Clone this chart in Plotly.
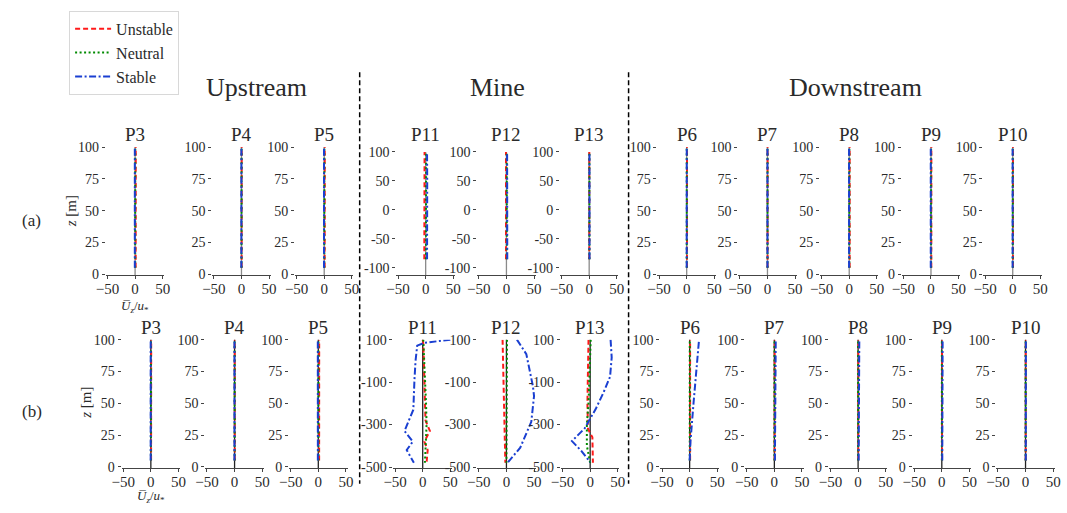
import plotly.graph_objects as go

# ---------------- data ----------------
PANEL_NAMES = ["P3", "P4", "P5", "P11", "P12", "P13", "P6", "P7", "P8", "P9", "P10"]
SECTIONS = ["Upstream", "Mine", "Downstream"]
SERIES = ["Unstable", "Neutral", "Stable"]

X_TICKS = [-50, 0, 50]
X_TICKTEXT = ["\u221250", "0", "50"]
Y_TICKS_SURF = [0, 25, 50, 75, 100]
Y_TICKS_MINE_A = [-100, -50, 0, 50, 100]
Y_TICKS_MINE_B = [-500, -300, -100, 100]

# heights of profiles
Z_SURF = [5, 25, 50, 75, 100]
Z_MINE_A = [-85, -50, 0, 50, 100]

# ---- row (a) ----
a_P3_unstable = [1.0, 1.0, 1.2, 1.0, 1.2]
a_P3_neutral = [0.2, 0.3, 0.3, 0.2, 0.3]
a_P3_stable = [-0.5, -0.4, -0.5, -0.4, -0.5]
a_P4_unstable = [0.3, 0.3, 0.4, 0.3, 0.4]
a_P4_neutral = [0.1, 0.1, 0.2, 0.1, 0.2]
a_P4_stable = [-0.2, -0.2, -0.1, -0.2, -0.1]
a_P5_unstable = [0.8, 0.9, 0.8, 1.0, 1.0]
a_P5_neutral = [0.2, 0.2, 0.3, 0.2, 0.3]
a_P5_stable = [-0.4, -0.3, -0.4, -0.3, -0.4]
a_P11_unstable = [-2.5, -2.5, -2.0, -2.5, -2.0]
a_P11_neutral = [0.5, 0.6, 0.8, 0.5, 0.8]
a_P11_stable = [2.5, 2.8, 2.5, 2.8, 2.5]
a_P12_unstable = [-0.8, -0.6, -0.8, -0.6, -0.8]
a_P12_neutral = [0.6, 0.8, 0.6, 0.8, 0.6]
a_P12_stable = [1.5, 1.2, 1.5, 1.2, 1.2]
a_P13_unstable = [0.2, 0.2, 0.3, 0.2, 0.2]
a_P13_neutral = [0.4, 0.3, 0.4, 0.3, 0.4]
a_P13_stable = [0.6, 0.6, 0.5, 0.6, 0.5]
a_P6_unstable = [0.5, 0.6, 0.5, 0.6, 0.5]
a_P6_neutral = [0.1, 0.2, 0.1, 0.2, 0.1]
a_P6_stable = [0.0, 0.2, 0.0, 0.2, 0.1]
a_P7_unstable = [0.2, 0.3, 0.2, 0.3, 0.2]
a_P7_neutral = [0.1, 0.1, 0.1, 0.1, 0.1]
a_P7_stable = [0.0, 0.1, 0.0, 0.1, 0.0]
a_P8_unstable = [0.8, 0.9, 0.8, 0.9, 0.8]
a_P8_neutral = [0.2, 0.2, 0.2, 0.2, 0.2]
a_P8_stable = [-0.3, -0.2, -0.3, -0.2, -0.3]
a_P9_unstable = [0.6, 0.6, 0.7, 0.6, 0.7]
a_P9_neutral = [0.2, 0.2, 0.2, 0.2, 0.2]
a_P9_stable = [-0.4, -0.3, -0.4, -0.3, -0.4]
a_P10_unstable = [0.4, 0.5, 0.4, 0.5, 0.4]
a_P10_neutral = [0.1, 0.1, 0.1, 0.1, 0.1]
a_P10_stable = [-0.2, -0.1, -0.2, -0.1, -0.2]

# ---- row (b) ----
b_P3_unstable = [0.4, 0.5, 0.6, 0.5, 0.6]
b_P3_neutral = [0.1, 0.1, 0.2, 0.1, 0.2]
b_P3_stable = [-0.3, -0.2, -0.3, -0.2, -0.3]
b_P4_unstable = [0.3, 0.3, 0.3, 0.3, 0.3]
b_P4_neutral = [0.1, 0.1, 0.1, 0.1, 0.1]
b_P4_stable = [-0.2, -0.2, -0.2, -0.2, -0.2]
b_P5_unstable = [1.5, 1.5, 1.6, 1.5, 1.6]
b_P5_neutral = [0.3, 0.3, 0.3, 0.3, 0.3]
b_P5_stable = [-0.8, -0.6, -0.9, -0.7, -0.9]
b_P6_z = [5, 20, 50, 75, 100]
b_P6_unstable = [0.8, 1.0, 1.5, 1.0, 0.8]
b_P6_neutral = [0.2, 0.2, 0.2, 0.2, 0.2]
b_P6_stable = [0.0, 1.5, 7.0, 12.0, 17.0]
b_P7_unstable = [0.5, 0.5, 0.6, 0.5, 0.5]
b_P7_neutral = [0.2, 0.2, 0.2, 0.2, 0.2]
b_P7_stable = [1.0, 1.2, 1.5, 2.0, 2.5]
b_P8_unstable = [0.4, 0.5, 0.4, 0.5, 0.4]
b_P8_neutral = [0.1, 0.1, 0.1, 0.1, 0.1]
b_P8_stable = [1.0, 1.2, 1.5, 2.0, 2.2]
b_P9_unstable = [0.4, 0.4, 0.4, 0.4, 0.4]
b_P9_neutral = [0.1, 0.1, 0.1, 0.1, 0.1]
b_P9_stable = [0.8, 0.9, 1.0, 1.2, 1.5]
b_P10_unstable = [0.3, 0.3, 0.3, 0.3, 0.3]
b_P10_neutral = [0.1, 0.1, 0.1, 0.1, 0.1]
b_P10_stable = [0.4, 0.5, 0.5, 0.6, 0.6]

# mine (b) profiles, each with its own heights
b_P11_unstable_z = [100, 80, 0, -100, -200, -280, -330, -380, -420, -480]
b_P11_unstable = [0, 1, 2, 3, 4, 5, 13, 3, 9, 7]
b_P11_neutral_z = [100, 0, -100, -200, -300, -400, -480]
b_P11_neutral = [1, 3, 5, 6, 7, 5, 4]
b_P11_stable_z = [100, 85, 72, 0, -90, -230, -330, -380, -420, -480]
b_P11_stable = [50, 3, -10, -13, -15, -17, -33, -18, -29, -16]

b_P12_unstable_z = [100, 0, -200, -480]
b_P12_unstable = [-7, -6, -4, -2]
b_P12_neutral_z = [100, -200, -480]
b_P12_neutral = [1, 0.5, 0]
b_P12_stable_z = [100, 32, -120, -166, -287, -409, -477]
b_P12_stable = [19, 36, 48, 50, 45, 25, 3]

b_P13_unstable_z = [100, 0, -200, -320, -360, -480]
b_P13_unstable = [-3, -4, -5, -4, 4, 5]
b_P13_neutral_z = [100, 0, -200, -300, -400, -480]
b_P13_neutral = [1, 0, -3, -6, -6, 0]
b_P13_stable_z = [100, 16, -75, -150, -227, -280, -318, -378, -424, -477]
b_P13_stable = [37, 39, 36, 24, 10, -2, -10, -33, -16, 0]

# ---------------- layout constants (pixels) ----------------
W, H = 1067, 513
ROW_A_CENTERS = [127, 235, 319, 422, 504, 588, 687, 769, 852, 935, 1018]
ROW_B_CENTERS = [143, 228, 313, 419, 504, 589, 690, 776, 861, 946, 1031]
HALF_W = 29.7
X_RANGE = [-53, 53]

COLORS = {"Unstable": "#ff1a1a", "Neutral": "#008a00", "Stable": "#1a3fd1"}
DASHES = {"Unstable": "5px,3px", "Neutral": "2px,2.5px", "Stable": "7px,2.5px,2px,2.5px"}
FONT = "Liberation Serif"
TXT = "#2a2a2a"


def px_x(p):
    return p / W


def px_y(p):
    return 1 - p / H


row_a = {
    "P3": (a_P3_unstable, a_P3_neutral, a_P3_stable),
    "P4": (a_P4_unstable, a_P4_neutral, a_P4_stable),
    "P5": (a_P5_unstable, a_P5_neutral, a_P5_stable),
    "P11": (a_P11_unstable, a_P11_neutral, a_P11_stable),
    "P12": (a_P12_unstable, a_P12_neutral, a_P12_stable),
    "P13": (a_P13_unstable, a_P13_neutral, a_P13_stable),
    "P6": (a_P6_unstable, a_P6_neutral, a_P6_stable),
    "P7": (a_P7_unstable, a_P7_neutral, a_P7_stable),
    "P8": (a_P8_unstable, a_P8_neutral, a_P8_stable),
    "P9": (a_P9_unstable, a_P9_neutral, a_P9_stable),
    "P10": (a_P10_unstable, a_P10_neutral, a_P10_stable),
}
row_b = {
    "P3": (b_P3_unstable, b_P3_neutral, b_P3_stable),
    "P4": (b_P4_unstable, b_P4_neutral, b_P4_stable),
    "P5": (b_P5_unstable, b_P5_neutral, b_P5_stable),
    "P11": (b_P11_unstable, b_P11_neutral, b_P11_stable),
    "P12": (b_P12_unstable, b_P12_neutral, b_P12_stable),
    "P13": (b_P13_unstable, b_P13_neutral, b_P13_stable),
    "P6": (b_P6_unstable, b_P6_neutral, b_P6_stable),
    "P7": (b_P7_unstable, b_P7_neutral, b_P7_stable),
    "P8": (b_P8_unstable, b_P8_neutral, b_P8_stable),
    "P9": (b_P9_unstable, b_P9_neutral, b_P9_stable),
    "P10": (b_P10_unstable, b_P10_neutral, b_P10_stable),
}
row_b_z = {
    "P11": (b_P11_unstable_z, b_P11_neutral_z, b_P11_stable_z),
    "P12": (b_P12_unstable_z, b_P12_neutral_z, b_P12_stable_z),
    "P13": (b_P13_unstable_z, b_P13_neutral_z, b_P13_stable_z),
    "P6": (b_P6_z, b_P6_z, b_P6_z),
}

fig = go.Figure()
layout_axes = {}
annotations = []
shapes = []
idx = 0
legend_done = False

for row in ["a", "b"]:
    centers = ROW_A_CENTERS if row == "a" else ROW_B_CENTERS
    for i, name in enumerate(PANEL_NAMES):
        idx += 1
        sfx = "" if idx == 1 else str(idx)
        xa, ya = "x" + sfx, "y" + sfx
        mine = name in ("P11", "P12", "P13")
        c = centers[i]
        xdom = [px_x(c - HALF_W), px_x(c + HALF_W)]
        if row == "a":
            top = 149 if mine else 144
            bottom = 276
            yr = [-113, 100] if mine else [-1, 100]
            yt = Y_TICKS_MINE_A if mine else Y_TICKS_SURF
            title_y = 131
        else:
            top, bottom = 342, 474
            yr = [-505, 100] if mine else [-1, 100]
            yt = Y_TICKS_MINE_B if mine else Y_TICKS_SURF
            title_y = 329
        ydom = [px_y(bottom), px_y(top)]

        vals = row_a[name] if row == "a" else row_b[name]
        if row == "a":
            zs = (Z_MINE_A,) * 3 if mine else (Z_SURF,) * 3
        else:
            zs = row_b_z.get(name, (Z_SURF,) * 3)

        # zero reference line
        shapes.append(dict(type="line", xref=xa, yref=ya + " domain", x0=0, x1=0, y0=0, y1=1,
                           line=dict(color="#8a8a8a" if row == "a" else "#222222", width=1.3),
                           layer="below"))

        for s, v, z in zip(SERIES, vals, zs):
            fig.add_trace(go.Scatter(
                x=v, y=z, mode="lines", name=s, xaxis=xa, yaxis=ya,
                line=dict(color=COLORS[s], dash=DASHES[s], width=2),
                showlegend=not legend_done, legendgroup=s,
            ))
        legend_done = True

        layout_axes["xaxis" + sfx] = dict(
            domain=xdom, range=X_RANGE, anchor=ya, tickvals=X_TICKS, ticktext=X_TICKTEXT,
            showgrid=False, zeroline=False, showline=True, linecolor="#444", linewidth=1,
            ticks="outside", ticklen=3, tickcolor="#444", ticklabelstandoff=-3,
            tickfont=dict(family=FONT, size=15, color=TXT), fixedrange=True,
        )
        layout_axes["yaxis" + sfx] = dict(
            domain=ydom, range=yr, anchor=xa, tickvals=yt, ticktext=[str(t) for t in yt],
            showgrid=False, zeroline=False, showline=False,
            ticks="outside", ticklen=3, tickcolor="#444",
            tickfont=dict(family=FONT, size=14, color=TXT), fixedrange=True,
        )
        annotations.append(dict(text=name, x=px_x(c), y=px_y(title_y), xref="paper", yref="paper",
                                showarrow=False, xanchor="center", yanchor="middle",
                                font=dict(family=FONT, size=19, color=TXT)))

# section titles
for t, xc in zip(SECTIONS, [250, 495, 858]):
    annotations.append(dict(text=t, x=px_x(xc), y=px_y(83), xref="paper", yref="paper",
                            showarrow=False, xanchor="center", yanchor="middle",
                            font=dict(family=FONT, size=26, color=TXT)))

# row labels and axis titles
for lab, yc in [("(a)", 219), ("(b)", 416)]:
    annotations.append(dict(text=lab, x=px_x(22), y=px_y(yc), xref="paper", yref="paper",
                            showarrow=False, xanchor="center", yanchor="middle",
                            font=dict(family=FONT, size=17, color=TXT)))
for xc, yc in [(62, 210), (77, 407)]:
    annotations.append(dict(text="<i>z</i> [m]", x=px_x(xc), y=px_y(yc), xref="paper", yref="paper",
                            showarrow=False, textangle=-90, xanchor="center", yanchor="middle",
                            font=dict(family=FONT, size=15, color=TXT)))
xlabel = "<i>U\u0305</i><sub><i>z</i></sub>/<i>u</i><sub>*</sub>"
for xc, yc, ya_ in [(127, 308, "middle"), (143, 514, "bottom")]:
    annotations.append(dict(text=xlabel, x=px_x(xc), y=px_y(yc), xref="paper", yref="paper",
                            showarrow=False, xanchor="center", yanchor=ya_,
                            font=dict(family=FONT, size=13, color=TXT)))

# section separators
for xs in [355, 628]:
    shapes.append(dict(type="line", xref="paper", yref="paper", x0=px_x(xs), x1=px_x(xs),
                       y0=px_y(67), y1=px_y(490),
                       line=dict(color="black", width=1.5, dash="5px,3px")))

fig.update_layout(
    width=W, height=H, autosize=False,
    margin=dict(l=0, r=0, t=0, b=0),
    paper_bgcolor="white", plot_bgcolor="white",
    annotations=annotations, shapes=shapes,
    showlegend=True,
    legend=dict(x=px_x(60), y=px_y(4), xanchor="left", yanchor="top",
                bgcolor="white", bordercolor="#d8d8d8", borderwidth=1,
                font=dict(family=FONT, size=16, color=TXT), tracegroupgap=0,
                itemwidth=36),
    **layout_axes,
)

fig.write_html("out.html")
